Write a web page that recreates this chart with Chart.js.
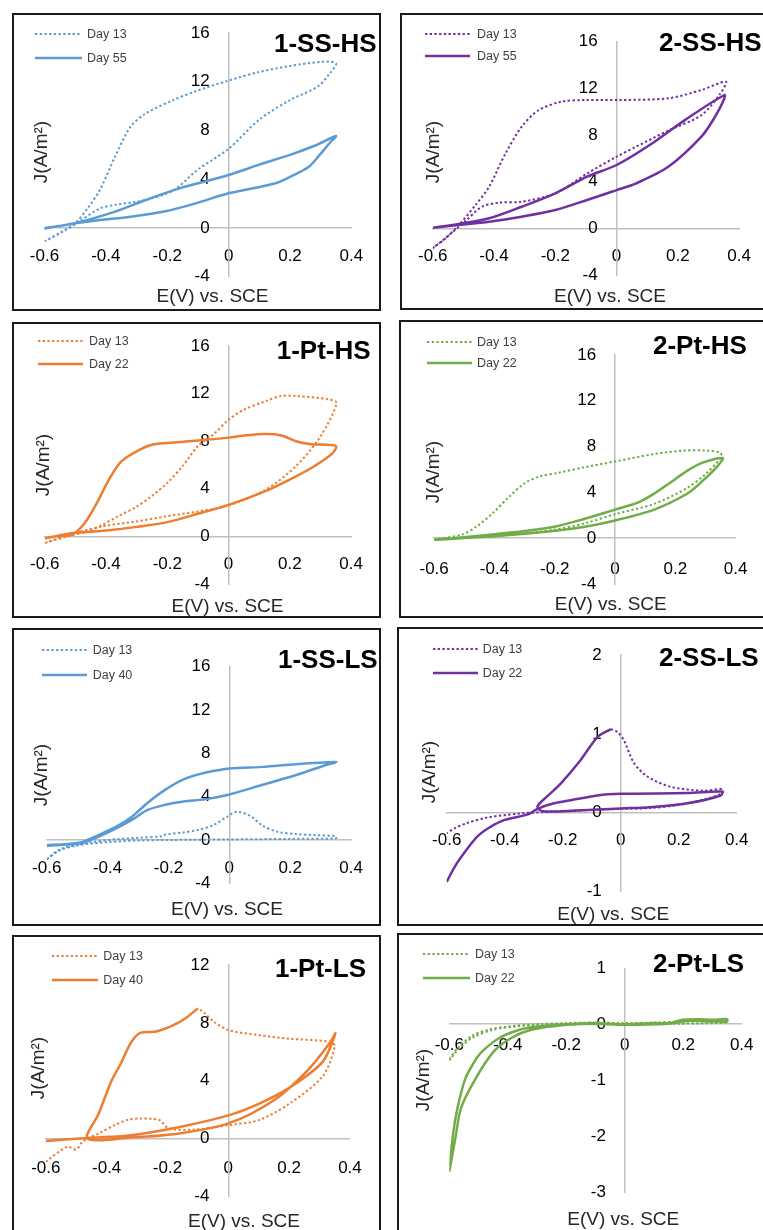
<!DOCTYPE html>
<html lang="en">
<head>
<meta charset="UTF-8">
<title>Cyclic voltammograms</title>
<style>
  html, body { margin: 0; padding: 0; background: #fff; }
  body { width: 763px; height: 1230px; overflow: hidden; position: relative; font-family: "Liberation Sans", Arial, sans-serif; }
  .panel { position: absolute; box-sizing: border-box; border: 2px solid #1a1a1a; background: #fff; }
  .panel canvas { position: absolute; left: -2px; top: -2px; }
  .ptitle { position: absolute; font-weight: bold; font-size: 26px; color: #000; white-space: nowrap; line-height: 1; transform: translateY(-50%); }
  .ytitle, .xtitle { position: absolute; font-size: 19px; color: #262626; white-space: nowrap; line-height: 1; }
  .ytitle { transform: translate(-50%, -50%) rotate(-90deg); }
  .xtitle { transform: translate(-50%, -50%); }
  .legtext { position: absolute; font-size: 12.5px; color: #404040; white-space: nowrap; line-height: 1; transform: translateY(-50%); }
  .legline { position: absolute; }
</style>
<script src="https://cdn.jsdelivr.net/npm/chart.js"></script>
</head>
<body>
<script>
// ---- data: [E (V vs SCE), J (A/m2)] ----
const cv1SSHS_d13 = [[-0.6,-1.1],[-0.55,-0.4],[-0.5,0.4],[-0.46,1.6],[-0.42,3.1],[-0.37,5.85],[-0.32,8.3],[-0.27,9.4],[-0.18,10.5],[-0.11,11.2],[0,12.1],[0.1,12.8],[0.2,13.3],[0.31,13.65],[0.35,13.5],[0.33,12.7],[0.29,11.6],[0.2,10.5],[0.1,8.9],[0,6.5],[-0.1,4.8],[-0.18,3.1],[-0.27,2.3],[-0.37,1.9],[-0.42,1.6],[-0.48,0.65],[-0.53,-0.16],[-0.6,-1.1]];
const cv1SSHS_d55 = [[-0.6,0],[-0.5,0.4],[-0.37,1.35],[-0.27,2.3],[-0.16,3.25],[0,4.35],[0.1,5.2],[0.2,6.0],[0.28,6.75],[0.35,7.55],[0.33,7.0],[0.3,6.1],[0.26,5.0],[0.2,4.2],[0.15,3.66],[0,2.85],[-0.11,2.0],[-0.21,1.35],[-0.32,0.93],[-0.42,0.65],[-0.5,0.4],[-0.6,-0.05]];

const cv2SSHS_d13 = [[-0.6,-1.7],[-0.56,-0.9],[-0.51,0.43],[-0.46,2.0],[-0.416,3.57],[-0.363,6.4],[-0.31,8.7],[-0.256,10.1],[-0.18,10.86],[-0.1,11.0],[0.01,11.0],[0.17,11.15],[0.277,11.86],[0.357,12.57],[0.34,11.6],[0.277,9.7],[0.17,8.4],[0.064,7.0],[0,6.14],[-0.096,4.7],[-0.2,3.0],[-0.31,2.28],[-0.384,2.2],[-0.44,1.85],[-0.49,0.7],[-0.566,-1.0],[-0.6,-1.7]];
const cv2SSHS_d55 = [[-0.6,0.05],[-0.51,0.4],[-0.416,0.86],[-0.31,1.85],[-0.2,3.0],[-0.096,4.43],[0,5.43],[0.117,7.3],[0.224,9.3],[0.352,11.43],[0.35,11.0],[0.32,9.5],[0.277,7.86],[0.17,5.3],[0.064,3.86],[0,3.28],[-0.096,2.43],[-0.2,1.57],[-0.31,1.0],[-0.416,0.57],[-0.51,0.3],[-0.6,0.05]];

const cv1PtHS_d13 = [[-0.6,-0.56],[-0.52,0.15],[-0.41,0.85],[-0.3,1.26],[-0.2,1.7],[-0.1,2.1],[0,2.6],[0.12,3.9],[0.22,5.9],[0.3,8.4],[0.353,11.2],[0.33,11.5],[0.22,11.8],[0.17,11.8],[0.12,11.35],[0.05,10.65],[0,9.8],[-0.05,8.55],[-0.1,7.6],[-0.15,5.9],[-0.2,4.5],[-0.25,3.4],[-0.3,2.5],[-0.36,1.7],[-0.41,1.0],[-0.46,0.4],[-0.52,0.05],[-0.6,-0.56]];
const cv1PtHS_d22 = [[-0.6,-0.15],[-0.55,0.05],[-0.51,0.15],[-0.47,1.1],[-0.43,2.8],[-0.39,4.8],[-0.35,6.3],[-0.3,7.15],[-0.25,7.7],[-0.2,7.85],[-0.1,8.05],[0,8.3],[0.06,8.5],[0.12,8.6],[0.17,8.5],[0.22,8.0],[0.27,7.75],[0.35,7.6],[0.34,7.0],[0.28,5.9],[0.22,5.05],[0.12,3.8],[0,2.65],[-0.1,1.9],[-0.2,1.2],[-0.3,0.8],[-0.4,0.5],[-0.5,0.3],[-0.6,-0.15]];

const cv2PtHS_d13 = [[-0.6,-0.1],[-0.51,0.3],[-0.46,1.0],[-0.405,2.2],[-0.35,3.65],[-0.3,4.8],[-0.25,5.4],[-0.19,5.7],[-0.1,6.2],[0,6.7],[0.13,7.35],[0.23,7.65],[0.3,7.65],[0.35,7.45],[0.35,7.0],[0.3,5.6],[0.24,4.4],[0.13,3.0],[0,2.1],[-0.1,1.3],[-0.2,0.75],[-0.3,0.42],[-0.4,0.22],[-0.5,0.08],[-0.6,-0.1]];
const cv2PtHS_d22 = [[-0.6,-0.15],[-0.5,0.08],[-0.4,0.35],[-0.3,0.62],[-0.2,1.0],[-0.1,1.7],[0,2.5],[0.075,3.1],[0.13,3.9],[0.18,4.8],[0.24,5.9],[0.29,6.6],[0.357,7.0],[0.34,6.3],[0.29,5.0],[0.24,3.9],[0.13,2.5],[0,1.55],[-0.1,1.0],[-0.2,0.65],[-0.3,0.38],[-0.4,0.17],[-0.5,0.02],[-0.6,-0.15]];

const cv1SSLS_d13 = [[-0.6,-1.8],[-0.56,-0.9],[-0.5,-0.45],[-0.45,-0.2],[-0.4,0],[-0.3,0.2],[-0.22,0.35],[-0.21,0.5],[-0.15,0.7],[-0.1,0.95],[-0.05,1.4],[-0.01,2.1],[0.025,2.6],[0.07,2.2],[0.11,1.3],[0.16,0.75],[0.22,0.55],[0.28,0.45],[0.35,0.35],[0.35,0.15],[0.2,0.1],[0,0.05],[-0.2,0],[-0.3,-0.05],[-0.4,-0.2],[-0.5,-0.5],[-0.56,-1.0],[-0.6,-1.8]];
const cv1SSLS_d40 = [[-0.6,-0.55],[-0.55,-0.45],[-0.48,-0.25],[-0.43,0.3],[-0.37,1.1],[-0.32,1.85],[-0.27,2.75],[-0.21,3.25],[-0.15,3.55],[-0.08,3.75],[0,4.2],[0.11,5.1],[0.22,6.0],[0.32,6.95],[0.35,7.2],[0.22,7.0],[0.11,6.75],[0,6.6],[-0.08,6.2],[-0.15,5.6],[-0.21,4.65],[-0.27,3.4],[-0.32,2.15],[-0.37,1.25],[-0.43,0.45],[-0.48,-0.15],[-0.53,-0.37],[-0.6,-0.46]];

const cv2SSLS_d13 = [[-0.034,1.06],[-0.01,1.02],[0.011,0.92],[0.046,0.63],[0.092,0.46],[0.172,0.33],[0.287,0.28],[0.35,0.3],[0.35,0.25],[0.3,0.18],[0.2,0.1],[0.1,0.06],[0,0.05],[-0.2,0.02],[-0.35,-0.01],[-0.46,-0.06],[-0.53,-0.13],[-0.575,-0.2],[-0.6,-0.26]];
const cv2SSLS_d22 = [[-0.6,-0.875],[-0.575,-0.7],[-0.55,-0.56],[-0.494,-0.3],[-0.45,-0.18],[-0.4,-0.09],[-0.32,-0.02],[-0.287,0.05],[-0.23,0.12],[-0.172,0.16],[-0.08,0.22],[0,0.24],[0.23,0.25],[0.35,0.27],[0.345,0.22],[0.23,0.12],[0.1,0.07],[0,0.055],[-0.15,0.03],[-0.27,0.02],[-0.287,0.08],[-0.25,0.22],[-0.207,0.37],[-0.138,0.67],[-0.08,0.96],[-0.034,1.06]];

const cv1PtLS_d13 = [[-0.6,-1.6],[-0.53,-0.58],[-0.5,-0.76],[-0.48,-0.23],[-0.463,0],[-0.426,0.35],[-0.374,0.92],[-0.33,1.3],[-0.29,1.38],[-0.25,1.36],[-0.226,1.27],[-0.195,0.69],[-0.11,0.62],[0,0.92],[0.1,1.27],[0.2,2.4],[0.31,4.3],[0.35,6.4],[0.33,6.7],[0.2,6.9],[0.1,7.15],[0,7.5],[-0.047,8.07],[-0.08,8.7],[-0.1,9.0]];
const cv1PtLS_d40 = [[-0.6,-0.17],[-0.45,0.05],[-0.32,0.23],[-0.16,0.8],[0,1.6],[0.1,2.4],[0.2,3.5],[0.31,5.3],[0.352,7.27],[0.33,6.5],[0.26,4.7],[0.15,2.65],[0,1.04],[-0.16,0.35],[-0.32,0.07],[-0.463,0],[-0.426,1.73],[-0.384,4.0],[-0.353,5.2],[-0.321,6.6],[-0.29,7.3],[-0.237,7.4],[-0.184,7.8],[-0.142,8.3],[-0.1,9.0]];

const cv2PtLS_d13 = [[-0.6,-0.62],[-0.57,-0.42],[-0.52,-0.2],[-0.46,-0.09],[-0.4,-0.04],[-0.3,0],[-0.2,0.02],[-0.1,0.03],[0,0.02],[0.1,0.03],[0.2,0.05],[0.35,0.06],[0.35,0.03],[0.2,0.01],[0,0],[-0.2,0],[-0.35,-0.03],[-0.45,-0.1],[-0.52,-0.24],[-0.57,-0.45],[-0.6,-0.65]];
const cv2PtLS_d22 = [[-0.6,-2.64],[-0.588,-2.0],[-0.572,-1.5],[-0.547,-1.0],[-0.52,-0.72],[-0.49,-0.5],[-0.43,-0.25],[-0.36,-0.1],[-0.3,-0.04],[-0.2,0.0],[-0.1,0.02],[0,0.0],[0.1,0.02],[0.15,0.02],[0.2,0.08],[0.25,0.09],[0.3,0.08],[0.35,0.09],[0.35,0.05],[0.3,0.05],[0.22,0.06],[0.15,0.01],[0,-0.01],[-0.1,0.01],[-0.2,-0.01],[-0.32,-0.1],[-0.39,-0.25],[-0.45,-0.5],[-0.513,-1.0],[-0.56,-1.5],[-0.578,-2.0],[-0.6,-2.64]];

const panelTitles = ['1-SS-HS', '2-SS-HS', '1-Pt-HS', '2-Pt-HS', '1-SS-LS', '2-SS-LS', '1-Pt-LS', '2-Pt-LS'];
const laterDays = ['Day 55', 'Day 55', 'Day 22', 'Day 22', 'Day 40', 'Day 22', 'Day 40', 'Day 22'];
const earlyDay = 'Day 13';
const eRange = [-0.6, 0.4];
const eStep = 0.2;
const jMin = [-4, -4, -4, -4, -4, -1, -4, -3];
const jMax = [16, 16, 16, 16, 16, 2, 12, 1];
const jStep = [4, 4, 4, 4, 4, 1, 4, 1];
const dottedSeries = [cv1SSHS_d13, cv2SSHS_d13, cv1PtHS_d13, cv2PtHS_d13, cv1SSLS_d13, cv2SSLS_d13, cv1PtLS_d13, cv2PtLS_d13];
const solidSeries = [cv1SSHS_d55, cv2SSHS_d55, cv1PtHS_d22, cv2PtHS_d22, cv1SSLS_d40, cv2SSLS_d22, cv1PtLS_d40, cv2PtLS_d22];

const blue = '#5B9BD5', orange = '#ED7D31', green = '#70AD47', purple = '#7030A0';
const panelColors = [blue, purple, orange, green, blue, purple, orange, green];

// ---- layout (pixels, relative to each panel's outer box) ----
// box: x,y,w,h ; ca: pixel of E min, E max, J max, J min ; xGap: axis-to-label centre
const geo = [
  { box: [12, 13, 369, 298], ca: [28, 346, 20, 263.8], xGap: 28, title: [262, 30], leg: [23, 70, 75, 21.3, 44.7], yt: [28, 139], xt: [200.5, 282] },
  { box: [400, 13, 369, 297], ca: [29.3, 341.7, 28.7, 262], xGap: 28.3, title: [259, 28.7], leg: [25, 70, 77, 21.3, 43], yt: [31.7, 138.7], xt: [210, 282] },
  { box: [12, 322, 369, 296], ca: [28, 344.7, 24, 262], xGap: 28.3, title: [264.7, 28], leg: [26, 71, 77, 19, 42.3], yt: [29.7, 143], xt: [215.5, 283] },
  { box: [399, 320, 369, 298], ca: [30.3, 342.7, 35, 264], xGap: 30.7, title: [254, 25], leg: [28, 73, 78, 21.7, 43.3], yt: [32.7, 151.7], xt: [211.8, 283.3] },
  { box: [12, 628, 369, 298], ca: [34.7, 344.7, 38.7, 255.3], xGap: 28.3, title: [266, 31], leg: [29.7, 74.7, 80.7, 22, 47], yt: [28, 147], xt: [215, 280.3] },
  { box: [397, 627, 369, 299], ca: [49.7, 339.7, 28, 264.7], xGap: 27.3, title: [262, 30.3], leg: [36, 81, 85.7, 22.3, 45.7], yt: [31.3, 144.7], xt: [216.3, 286.3] },
  { box: [12, 935, 369, 300], ca: [28, 346.3, 30, 261.3], xGap: 29.4, title: [263, 33.3], leg: [39.7, 86.3, 91.3, 21, 45], yt: [24.7, 133.3], xt: [232, 285] },
  { box: [397, 933, 369, 300], ca: [52.3, 344.7, 35.3, 259], xGap: 21, title: [256, 30.3], leg: [26, 73, 78, 21.3, 44.7], yt: [24.7, 147], xt: [226.3, 285.3] }
];

const tickFont = { family: 'Liberation Sans', size: 17 };
const dotDash = [2.3, 2.4];

function toPoints(pairs) {
  return pairs.map(p => ({ x: p[0], y: p[1] }));
}

function addText(parent, cls, text, x, y) {
  const el = document.createElement('div');
  el.className = cls;
  el.textContent = text;
  el.style.left = (x - 2) + 'px';
  el.style.top = (y - 2) + 'px';
  parent.appendChild(el);
  return el;
}

function addLegendLine(parent, x1, x2, y, color, dash) {
  const ns = 'http://www.w3.org/2000/svg';
  const svg = document.createElementNS(ns, 'svg');
  svg.setAttribute('class', 'legline');
  svg.setAttribute('width', x2 - x1);
  svg.setAttribute('height', 6);
  svg.style.left = (x1 - 2) + 'px';
  svg.style.top = (y - 5) + 'px';
  const line = document.createElementNS(ns, 'line');
  line.setAttribute('x1', 0); line.setAttribute('x2', x2 - x1);
  line.setAttribute('y1', 3); line.setAttribute('y2', 3);
  line.setAttribute('stroke', color);
  line.setAttribute('stroke-width', dash ? 2 : 2.5);
  if (dash) line.setAttribute('stroke-dasharray', dash.join(' '));
  svg.appendChild(line);
  parent.appendChild(svg);
}

function buildPanel(i) {
  const g = geo[i];
  const [bx, by, bw, bh] = g.box;
  const color = panelColors[i];

  const panel = document.createElement('div');
  panel.className = 'panel';
  panel.style.left = bx + 'px';
  panel.style.top = by + 'px';
  panel.style.width = bw + 'px';
  panel.style.height = bh + 'px';
  document.body.appendChild(panel);

  const canvas = document.createElement('canvas');
  canvas.width = bw;
  canvas.height = bh;
  canvas.style.width = bw + 'px';
  canvas.style.height = bh + 'px';
  panel.appendChild(canvas);

  new Chart(canvas, {
    type: 'scatter',
    data: {
      datasets: [
        { label: earlyDay, data: toPoints(dottedSeries[i]), showLine: true, borderColor: color, backgroundColor: color,
          borderWidth: 2, borderDash: dotDash, pointRadius: 0, tension: 0.3, order: 1 },
        { label: laterDays[i], data: toPoints(solidSeries[i]), showLine: true, borderColor: color, backgroundColor: color,
          borderWidth: 2.5, pointRadius: 0, tension: 0.3, order: 0 }
      ]
    },
    options: {
      responsive: false,
      animation: false,
      devicePixelRatio: 1,
      layout: { padding: { left: g.ca[0], right: bw - g.ca[1], top: g.ca[2], bottom: bh - g.ca[3] } },
      plugins: { legend: { display: false }, tooltip: { enabled: false } },
      scales: {
        x: {
          type: 'linear', position: { y: 0 }, min: eRange[0], max: eRange[1],
          grid: { display: false, drawTicks: false },
          border: { display: true, color: '#bfbfbf', width: 1.5 },
          ticks: { stepSize: eStep, autoSkip: false, maxRotation: 0, font: tickFont, color: '#000',
                   padding: g.xGap - 10.2, callback: v => String(Math.round(v * 10) / 10) }
        },
        y: {
          type: 'linear', position: { x: 0 }, min: jMin[i], max: jMax[i],
          grid: { display: false, drawTicks: false },
          border: { display: true, color: '#bfbfbf', width: 1.5 },
          ticks: { stepSize: jStep[i], autoSkip: false, font: tickFont, color: '#000', padding: 0,
                   callback: v => String(Math.round(v)) + '    ' }
        }
      }
    }
  });

  addText(panel, 'ptitle', panelTitles[i], g.title[0], g.title[1]);
  addText(panel, 'ytitle', 'J(A/m\u00B2)', g.yt[0], g.yt[1]);
  addText(panel, 'xtitle', 'E(V) vs. SCE', g.xt[0], g.xt[1]);

  const [lx1, lx2, tx, r1, r2] = g.leg;
  addLegendLine(panel, lx1, lx2, r1, color, dotDash);
  addLegendLine(panel, lx1, lx2, r2, color, null);
  addText(panel, 'legtext', earlyDay, tx, r1);
  addText(panel, 'legtext', laterDays[i], tx, r2);
}

for (let i = 0; i < panelTitles.length; i++) buildPanel(i);
</script>
</body>
</html>
